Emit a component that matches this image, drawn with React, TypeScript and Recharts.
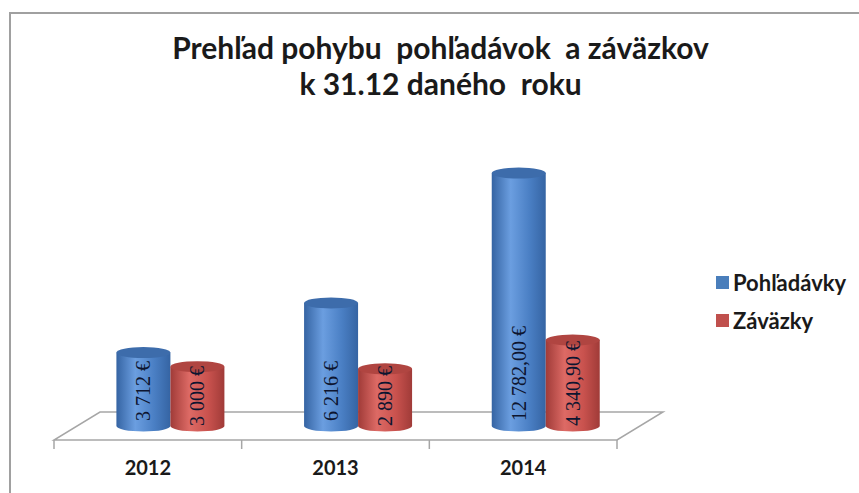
import * as R from "recharts";
import { Bar, BarChart, LabelList, Legend, XAxis, YAxis } from "recharts";

const YEARS = ["2012", "2013", "2014"];
const RECEIVABLES = [3712, 6216, 12782];
const PAYABLES = [3000, 2890, 4340.9];
const RECEIVABLE_LABELS = ["3 712 €", "6 216 €", "12 782,00 €"];
const PAYABLE_LABELS = ["3 000 €", "2 890 €", "4 340,90 €"];
const Y_DOMAIN = [0, 14000];

const W = 859;
const H = 493;
const MARGIN = { top: 149, right: 219, bottom: 0, left: 77 };
const AXIS_H = 67;
// 3D floor depth offset (half depth each way from the bar plane)
const DX = 23;
const DY = 14;

const SERIES = {
  recv: { name: "Pohľadávky", edge: "#3564a3", light: "#6b9ee0", mid: "#4a7fc4", top: "#3d6cab", swatch: "#4a7ebb", labelOff: 5 },
  pay: { name: "Záväzky", edge: "#a03b38", light: "#dd6a65", mid: "#c9524e", top: "#b04541", swatch: "#c0504d", labelOff: 0 },
};

const data = YEARS.map((year, i) => ({
  year,
  recv: RECEIVABLES[i],
  pay: PAYABLES[i],
  recvLabel: RECEIVABLE_LABELS[i],
  payLabel: PAYABLE_LABELS[i],
}));

const FONT = "Lato, 'Open Sans', sans-serif";

function Cylinder(key: "recv" | "pay") {
  const s = SERIES[key];
  const gid = `grad-${key}`;
  return (props: any) => {
    const { x, y, width, height } = props;
    if (width == null || height == null) return null;
    const rx = width / 2;
    const ry = 5.5;
    const cx = x + rx;
    const b = y + height;
    return (
      <g>
        <defs>
          <linearGradient id={gid} x1="0" y1="0" x2="1" y2="0">
            <stop offset="0%" stopColor={s.edge} />
            <stop offset="35%" stopColor={s.light} />
            <stop offset="70%" stopColor={s.mid} />
            <stop offset="100%" stopColor={s.edge} />
          </linearGradient>
        </defs>
        <path
          d={`M${x},${y} L${x},${b} A${rx},${ry} 0 0 0 ${x + width},${b} L${x + width},${y} Z`}
          fill={`url(#${gid})`}
        />
        <ellipse cx={cx} cy={y} rx={rx} ry={ry} fill={s.top} />
      </g>
    );
  };
}

function BarLabel(key: "recv" | "pay") {
  const s = SERIES[key];
  return (props: any) => {
    const { x, y, width, height, value } = props;
    const cx = x + width / 2;
    const by = y + height - s.labelOff;
    return (
      <text
        x={cx}
        y={by}
        transform={`rotate(-90 ${cx} ${by})`}
        dominantBaseline="central"
        fontFamily="'Liberation Serif', serif"
        fontSize={20}
        fill="#0d1530"
      >
        {value}
      </text>
    );
  };
}

function Floor() {
  const area = (R as any).usePlotArea ? (R as any).usePlotArea() : null;
  const left = area ? area.x : MARGIN.left;
  const width = area ? area.width : W - MARGIN.left - MARGIN.right;
  const base = area ? area.y + area.height : H - MARGIN.bottom - AXIS_H;
  const right = left + width;
  const bw = width / YEARS.length;
  const pts = [
    [left - DX, base + DY],
    [right - DX, base + DY],
    [right + DX, base - DY],
    [left + DX, base - DY],
  ];
  return (
    <g>
      <polygon points={pts.map((p) => p.join(",")).join(" ")} fill="#fff" stroke="#a6a6a6" strokeWidth={1.5} />
      {Array.from({ length: YEARS.length + 1 }, (_, i) => (
        <line
          key={i}
          x1={left + i * bw - DX}
          x2={left + i * bw - DX}
          y1={base + DY}
          y2={base + DY + 9}
          stroke="#a6a6a6"
          strokeWidth={1.5}
        />
      ))}
    </g>
  );
}

function YearTick({ x, y, payload }: any) {
  return (
    <text x={x - DX} y={y + 41} textAnchor="middle" fontFamily={FONT} fontWeight={700} fontSize={20} fill="#1a1a1a">
      {payload.value}
    </text>
  );
}

function LegendBox() {
  return (
    <div style={{ fontFamily: FONT, fontWeight: 700, fontSize: 22, color: "#1a1a1a" }}>
      {(["recv", "pay"] as const).map((k) => (
        <div key={k} style={{ display: "flex", alignItems: "center", height: 38 }}>
          <span style={{ width: 13, height: 13, background: SERIES[k].swatch, marginRight: 4 }} />
          <span>{SERIES[k].name}</span>
        </div>
      ))}
    </div>
  );
}

export default function App() {
  return (
    <div style={{ position: "absolute", left: 0, top: 0, width: W, height: H, background: "#fff", overflow: "hidden" }}>
      <div
        style={{
          position: "absolute", left: 9, top: 12, width: 900, height: 520,
          borderLeft: "2px solid #a0a0a0", borderTop: "2px solid #a0a0a0",
        }}
      />
      <div
        style={{
          position: "absolute", left: 0, width: 881, top: 29, textAlign: "center",
          fontFamily: FONT, fontWeight: 700, fontSize: 30, lineHeight: "36px", color: "#1a1a1a",
        }}
      >
        <div>Prehľad pohybu&nbsp; pohľadávok&nbsp; a záväzkov</div>
        <div>k 31.12 daného&nbsp; roku</div>
      </div>
      <div style={{ position: "absolute", left: 0, top: 0 }}>
        <BarChart width={W} height={H} data={data} margin={MARGIN} barCategoryGap="21%" barGap={0}>
          <Floor />
          <XAxis dataKey="year" height={AXIS_H} axisLine={false} tickLine={false} tick={<YearTick />} interval={0} />
          <YAxis hide domain={Y_DOMAIN} />
          <Legend
            layout="vertical"
            align="center"
            verticalAlign="middle"
            content={<LegendBox />}
            wrapperStyle={{ left: 716, top: 263, width: 143 }}
          />
          <Bar dataKey="recv" name={SERIES.recv.name} shape={Cylinder("recv")} isAnimationActive={false}>
            <LabelList dataKey="recvLabel" content={BarLabel("recv")} />
          </Bar>
          <Bar dataKey="pay" name={SERIES.pay.name} shape={Cylinder("pay")} isAnimationActive={false}>
            <LabelList dataKey="payLabel" content={BarLabel("pay")} />
          </Bar>
        </BarChart>
      </div>
    </div>
  );
}
